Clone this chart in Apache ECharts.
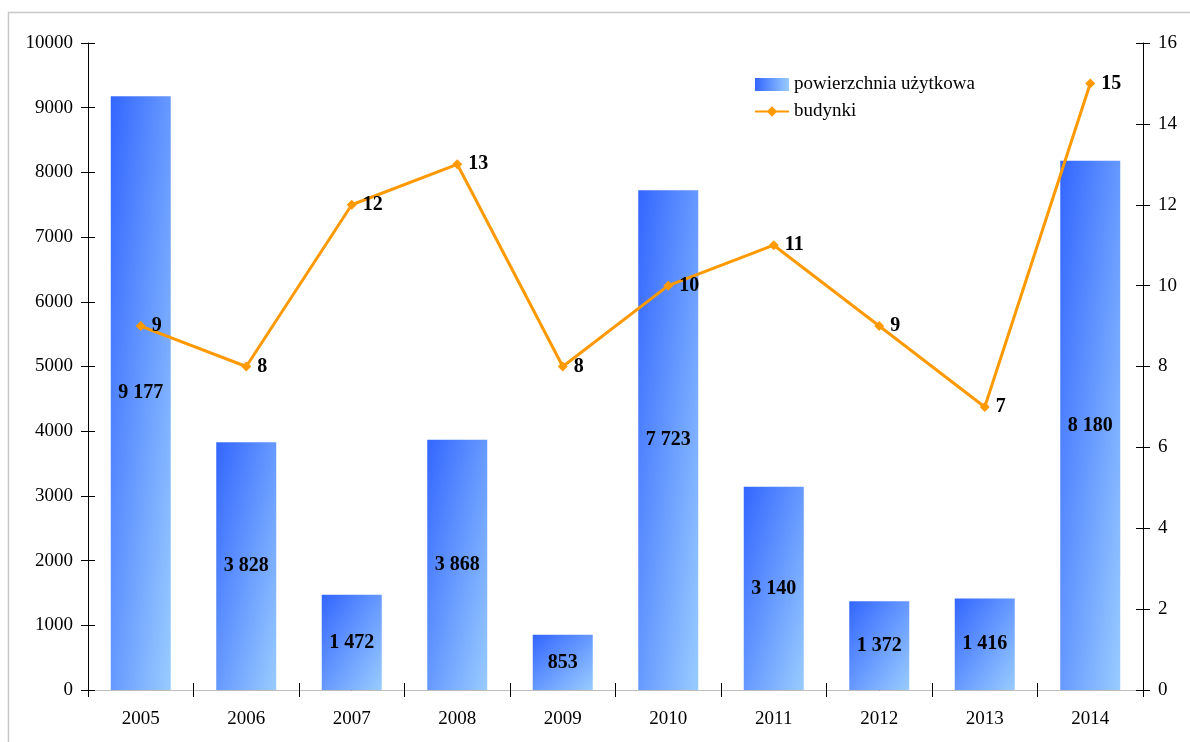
<!DOCTYPE html>
<html>
<head>
<meta charset="utf-8">
<script src="https://cdn.jsdelivr.net/npm/echarts@6/dist/echarts.min.js"></script>
<style>
  html, body { margin: 0; padding: 0; background: #fff; }
  #chart { width: 1190px; height: 742px; }
</style>
</head>
<body>
<div id="chart"></div>
<script>
// Years on the category axis
const years = ['2005', '2006', '2007', '2008', '2009', '2010', '2011', '2012', '2013', '2014'];
// Usable floor area (left axis)
const area = [9177, 3828, 1472, 3868, 853, 7723, 3140, 1372, 1416, 8180];
// Number of buildings (right axis)
const buildings = [9, 8, 12, 13, 8, 10, 11, 9, 7, 15];
// Axis scales
const areaMax = 10000, areaStep = 1000;
const bldMax = 16, bldStep = 2;

const FONT = '"Liberation Serif", "Times New Roman", serif';
const GRID = { left: 88, right: 47, top: 43, bottom: 52 };
const BAR_W = 60;

// Diagonal shading that follows the shape of each bar
function barFill(v) {
  const plotH = 742 - GRID.top - GRID.bottom;
  const h = Math.max(1, v / areaMax * plotH);
  const w = BAR_W;
  const d = h * h + w * w;
  return new echarts.graphic.LinearGradient(0, 0, 2 * h * h / d, 2 * w * w / d, [
    { offset: 0, color: '#3366FF' },
    { offset: 1, color: '#99CCFF' }
  ]);
}

function fmtSpace(n) {
  return String(n).replace(/\B(?=(\d{3})+(?!\d))/g, ' ');
}

const chart = echarts.init(document.getElementById('chart'), null, { renderer: 'canvas' });

const axisTxt = { color: '#000', fontFamily: FONT, fontSize: 19 };
const blackLine = { lineStyle: { color: '#000', width: 1 } };

chart.setOption({
  animation: false,
  backgroundColor: '#fff',
  graphic: [{
    type: 'rect',
    shape: { x: 8.5, y: 12.5, width: 1300, height: 900 },
    style: { fill: 'none', stroke: '#c8c8c8', lineWidth: 1.5 },
    silent: true, z: -10
  }],
  grid: GRID,
  legend: {
    orient: 'vertical',
    left: 749, top: 70,
    itemWidth: 34, itemHeight: 13,
    itemGap: 8,
    textStyle: { color: '#000', fontFamily: FONT, fontSize: 19 },
    data: [
      { name: 'powierzchnia użytkowa', icon: 'rect',
        itemStyle: { color: new echarts.graphic.LinearGradient(0, 0, 1, 0, [
          { offset: 0, color: '#3366FF' }, { offset: 1, color: '#99CCFF' }]) } },
      { name: 'budynki' }
    ]
  },
  xAxis: [
    { type: 'category', data: years, position: 'bottom',
      axisLine: blackLine, axisTick: { show: true, length: 7, lineStyle: { color: '#000' } },
      axisLabel: Object.assign({ margin: 20 }, axisTxt) },
    { type: 'category', data: years, position: 'bottom',
      axisLine: { show: false }, axisTick: { show: true, inside: true, length: 7, lineStyle: { color: '#000' } },
      axisLabel: { show: false } },
    { type: 'category', data: years, position: 'top',
      axisLine: { lineStyle: { color: '#bdbdbd', width: 1 } }, axisTick: { show: false },
      axisLabel: { show: false } }
  ],
  yAxis: [
    { type: 'value', min: 0, max: areaMax, interval: areaStep, position: 'left',
      axisLine: Object.assign({ show: true }, blackLine),
      axisTick: { show: true, length: 7, lineStyle: { color: '#000' } },
      splitLine: { show: false },
      axisLabel: Object.assign({ margin: 15, formatter: v => String(v) }, axisTxt) },
    { type: 'value', min: 0, max: bldMax, interval: bldStep, position: 'right',
      axisLine: Object.assign({ show: true }, blackLine),
      axisTick: { show: true, length: 7, lineStyle: { color: '#000' } },
      splitLine: { show: false },
      axisLabel: Object.assign({ margin: 15, formatter: v => String(v) }, axisTxt) },
    { type: 'value', min: 0, max: areaMax, interval: areaStep, position: 'left',
      axisLine: { show: false }, splitLine: { show: false }, axisLabel: { show: false },
      axisTick: { show: true, inside: true, length: 7, lineStyle: { color: '#000' } } },
    { type: 'value', min: 0, max: bldMax, interval: bldStep, position: 'right',
      axisLine: { show: false }, splitLine: { show: false }, axisLabel: { show: false },
      axisTick: { show: true, inside: true, length: 7, lineStyle: { color: '#000' } } }
  ],
  series: [
    {
      name: 'powierzchnia użytkowa',
      type: 'bar',
      xAxisIndex: 0, yAxisIndex: 0,
      barWidth: BAR_W,
      data: area.map(v => ({ value: v, itemStyle: { color: barFill(v) } })),
      label: {
        show: true, position: 'inside',
        color: '#000', fontFamily: FONT, fontSize: 20, fontWeight: 'bold',
        formatter: p => fmtSpace(p.value)
      },
      z: 2
    },
    {
      name: 'budynki',
      type: 'line',
      xAxisIndex: 0, yAxisIndex: 1,
      data: buildings,
      color: '#FF9900',
      lineStyle: { color: '#FF9900', width: 3 },
      itemStyle: { color: '#FF9900' },
      symbol: 'diamond', symbolSize: 10,
      label: {
        show: true, position: 'right', distance: 6,
        color: '#000', fontFamily: FONT, fontSize: 20, fontWeight: 'bold'
      },
      z: 3
    }
  ]
});
</script>
</body>
</html>
